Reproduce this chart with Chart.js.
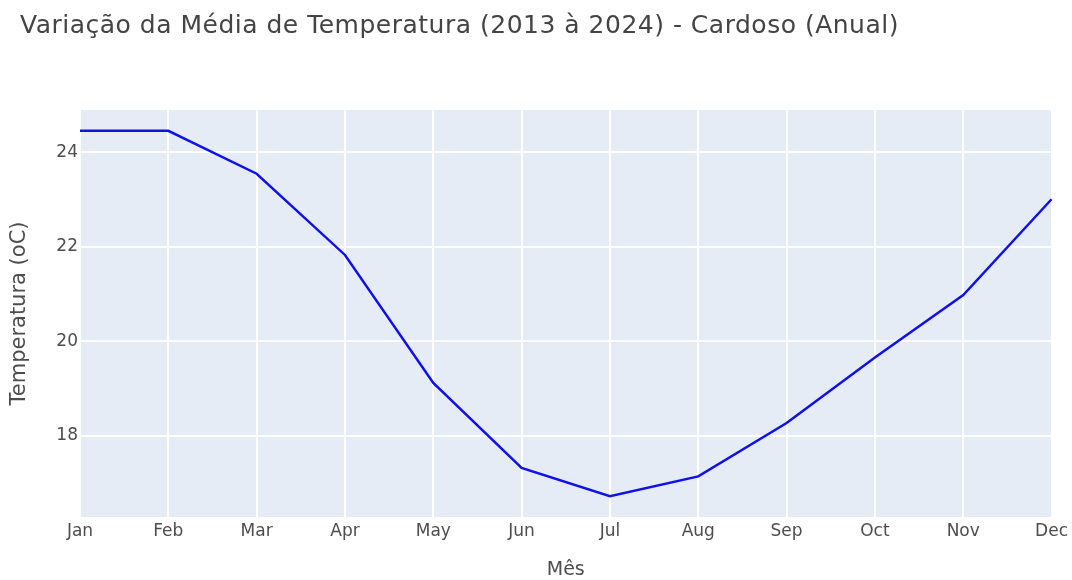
<!DOCTYPE html>
<html>
<head>
<meta charset="utf-8">
<script src="https://cdn.jsdelivr.net/npm/chart.js@4"></script>
<style>
html,body{margin:0;padding:0;background:#fff;overflow:hidden;}
#c{display:block;width:1072px;height:580px;}
</style>
</head>
<body>
<canvas id="c" width="1072" height="580"></canvas>
<script>
const months = ["Jan","Feb","Mar","Apr","May","Jun","Jul","Aug","Sep","Oct","Nov","Dec"];
const tempValues = [24.46, 24.46, 23.55, 21.83, 19.12, 17.32, 16.72, 17.14, 18.27, 19.66, 20.98, 23.01];
const yTicks = [18, 20, 22, 24];
const chartTitle = "Variação da Média de Temperatura (2013 à 2024) - Cardoso (Anual)";
const xTitle = "Mês";
const yTitle = "Temperatura (oC)";

const FONT = "'DejaVu Sans', Verdana, sans-serif";

const bgPlugin = {
  id: 'plotBg',
  beforeDraw(chart) {
    const {ctx, chartArea: a} = chart;
    ctx.save();
    ctx.fillStyle = '#E5ECF6';
    ctx.fillRect(a.left, a.top, a.right - a.left, a.bottom - a.top);
    ctx.restore();
  },
  afterDraw(chart) {
    const ctx = chart.ctx;
    ctx.save();
    ctx.font = "25px " + FONT;
    ctx.fillStyle = '#444';
    ctx.textAlign = 'left';
    ctx.textBaseline = 'alphabetic';
    if ('letterSpacing' in ctx) ctx.letterSpacing = '0.5px';
    ctx.fillText(chartTitle, 20, 33);
    ctx.restore();
  }
};

new Chart(document.getElementById('c'), {
  type: 'line',
  data: {
    labels: months,
    datasets: [{
      data: tempValues,
      borderColor: '#1010ec',
      borderWidth: 2.5,
      pointRadius: 0,
      tension: 0,
      fill: false
    }]
  },
  options: {
    responsive: false,
    animation: false,
    layout: {padding: {left: 0, right: 20, top: 110, bottom: 0}},
    plugins: {
      legend: {display: false},
      tooltip: {enabled: false},
      title: {display: false}
    },
    scales: {
      x: {
        type: 'category',
        offset: false,
        grid: {color: '#ffffff', lineWidth: 2, drawTicks: false},
        border: {display: false},
        ticks: {color: '#4d4d4d', font: {family: FONT, size: 17}, padding: 4, maxRotation: 0, autoSkip: false},
        title: {display: true, text: xTitle, color: '#4d4d4d', font: {family: FONT, size: 19}, padding: {top: 0, bottom: -1}},
        afterFit(s) { s.height = 63; }
      },
      y: {
        min: 16.28,
        max: 24.9,
        grid: {color: '#ffffff', lineWidth: 2, drawTicks: false},
        border: {display: false},
        ticks: {
          color: '#4d4d4d', font: {family: FONT, size: 17}, padding: 2,
          stepSize: 2, includeBounds: false
        },
        afterBuildTicks(s) { s.ticks = yTicks.map(v => ({value: v})); },
        title: {display: true, text: yTitle, color: '#4d4d4d', font: {family: FONT, size: 21}, padding: {top: 7, bottom: 0}},
        afterFit(s) { s.width = 80; }
      }
    }
  },
  plugins: [bgPlugin]
});
</script>
</body>
</html>
